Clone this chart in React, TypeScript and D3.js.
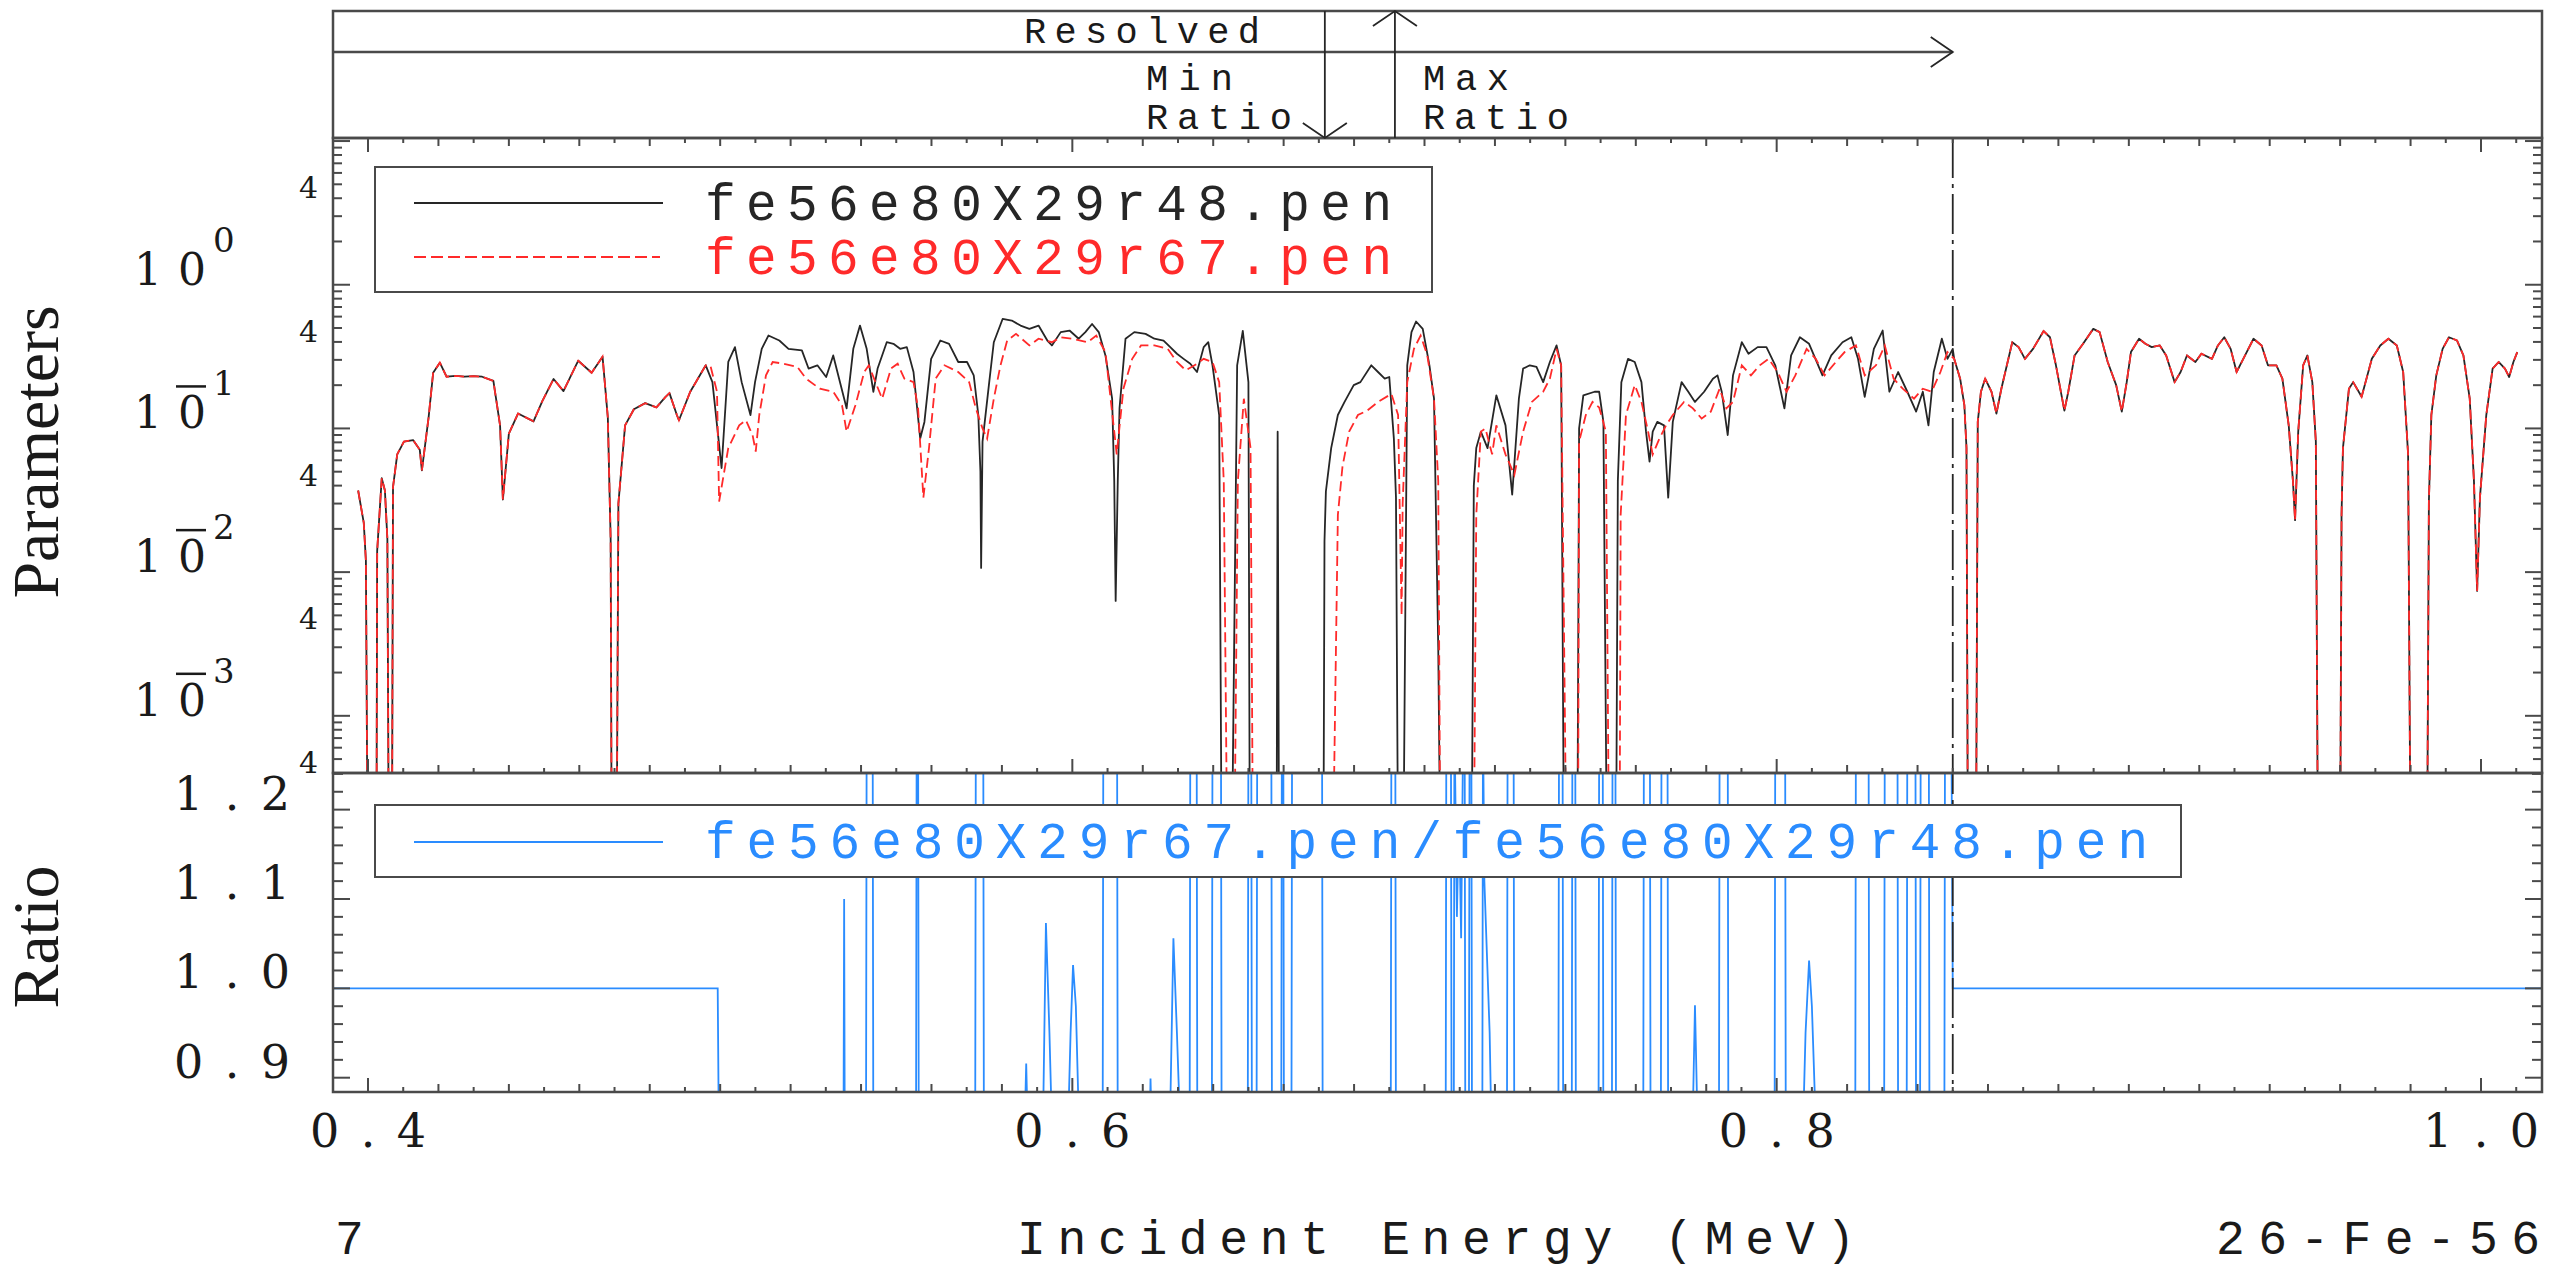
import React, { useEffect, useRef } from 'react';
import * as d3 from 'd3';

// Overall canvas and panel geometry
const W = 2552;
const H = 1268;
const LEFT = 333;
const RIGHT = 2542;
const TOP_PANEL = { top: 11, bottom: 138 };
const MAIN = { top: 138, bottom: 773 };
const RATIO_PANEL = { top: 773, bottom: 1092 };

// Axis domains
const X_DOMAIN: [number, number] = [0.39006, 1.01732];
const Y_DOMAIN: [number, number] = [4e-4, 10.5];
const RATIO_DOMAIN: [number, number] = [0.884, 1.241];

// Region markers (MeV)
const RESOLVED_END = 0.85;
const MIN_RATIO_E = 0.6717;
const MAX_RATIO_E = 0.6916;

// Tick labels
const X_LABELS = [0.4, 0.6, 0.8, 1.0];
const DECADES = [0, -1, -2, -3];
const FOUR_TICKS = [4, 0.4, 0.04, 0.004, 0.0004];
const RATIO_LABELS = [0.9, 1.0, 1.1, 1.2];

// Cross sections below the resonance region (both evaluations agree)
const LOW_SHARED: [number, number][] = [
  [0.3972, 0.037], [0.3988, 0.022], [0.3994, 0.012], [0.3999, 0.0001], [0.4024, 0.0001],
  [0.4026, 0.014], [0.4039, 0.045], [0.4048, 0.037], [0.4055, 0.017], [0.4059, 0.0001],
  [0.4068, 0.0001], [0.4071, 0.039], [0.4083, 0.066], [0.4102, 0.081], [0.4128, 0.083],
  [0.4147, 0.071], [0.4153, 0.051], [0.4172, 0.119], [0.4185, 0.244], [0.4204, 0.287],
  [0.4223, 0.229], [0.4250, 0.232], [0.4274, 0.229], [0.4300, 0.231], [0.4324, 0.229],
  [0.4356, 0.214], [0.4375, 0.105], [0.4383, 0.032], [0.4400, 0.092], [0.4426, 0.127],
  [0.4470, 0.112], [0.4495, 0.155], [0.4527, 0.221], [0.4555, 0.182], [0.4597, 0.296],
  [0.4635, 0.244], [0.4666, 0.316], [0.4681, 0.119], [0.4689, 0.017], [0.4692, 0.0001],
  [0.4706, 0.0001], [0.4711, 0.030], [0.4730, 0.105], [0.4755, 0.136], [0.4787, 0.150],
  [0.4819, 0.140], [0.4845, 0.166], [0.4856, 0.176], [0.4877, 0.124], [0.4883, 0.114],
  [0.4915, 0.180], [0.4959, 0.275],
];

// fe56e80X29r48 between 0.496 and 0.85 MeV
const MID_R48: [number, number][] = [
  [0.4978, 0.210], [0.5004, 0.053], [0.5023, 0.290], [0.5042, 0.368], [0.5061, 0.210],
  [0.5086, 0.124], [0.5099, 0.210], [0.5118, 0.358], [0.5137, 0.443], [0.5168, 0.409],
  [0.5194, 0.358], [0.5232, 0.349], [0.5251, 0.261], [0.5276, 0.275], [0.5301, 0.228],
  [0.5321, 0.322], [0.5359, 0.138], [0.5378, 0.358], [0.5397, 0.520], [0.5416, 0.358],
  [0.5435, 0.180], [0.5447, 0.261], [0.5473, 0.398], [0.5492, 0.388], [0.5511, 0.358],
  [0.5530, 0.368], [0.5549, 0.247], [0.5568, 0.085], [0.5580, 0.111], [0.5599, 0.305],
  [0.5625, 0.409], [0.5650, 0.388], [0.5676, 0.290], [0.5701, 0.290], [0.5720, 0.234],
  [0.5733, 0.124], [0.5739, 0.050], [0.5741, 0.0107], [0.5745, 0.081], [0.5764, 0.210],
  [0.5777, 0.398], [0.5802, 0.578], [0.5828, 0.563], [0.5853, 0.520], [0.5878, 0.493],
  [0.5904, 0.520], [0.5929, 0.409], [0.5942, 0.378], [0.5967, 0.468], [0.5992, 0.480],
  [0.6018, 0.421], [0.6037, 0.468], [0.6056, 0.533], [0.6075, 0.468], [0.6094, 0.322],
  [0.6113, 0.161], [0.6119, 0.043], [0.6123, 0.0063], [0.6129, 0.043], [0.6134, 0.138],
  [0.6151, 0.421], [0.6176, 0.468], [0.6208, 0.455], [0.6233, 0.421], [0.6259, 0.409],
  [0.6278, 0.368], [0.6297, 0.331], [0.6316, 0.305], [0.6335, 0.282], [0.6354, 0.247],
  [0.6373, 0.368], [0.6386, 0.398], [0.6398, 0.275], [0.6417, 0.124], [0.6424, 0.0001],
  [0.6453, 0.0001], [0.6468, 0.275], [0.6484, 0.478], [0.6500, 0.210], [0.6504, 0.0001],
  [0.6580, 0.0001], [0.6583, 0.095], [0.6587, 0.0001], [0.6713, 0.0001], [0.6716, 0.0164],
  [0.6720, 0.0365], [0.6735, 0.073], [0.6754, 0.124], [0.6773, 0.153], [0.6799, 0.200],
  [0.6818, 0.210], [0.6849, 0.275], [0.6868, 0.247], [0.6887, 0.222], [0.6900, 0.228],
  [0.6913, 0.085], [0.6919, 0.033], [0.6925, 0.0001], [0.6940, 0.0001], [0.6951, 0.275],
  [0.6963, 0.468], [0.6976, 0.555], [0.6995, 0.493], [0.7014, 0.275], [0.7027, 0.161],
  [0.7039, 0.003], [0.7045, 0.0001], [0.7134, 0.0001], [0.7140, 0.040], [0.7147, 0.073],
  [0.7160, 0.095], [0.7179, 0.073], [0.7204, 0.170], [0.7230, 0.105], [0.7249, 0.0346],
  [0.7268, 0.161], [0.7280, 0.261], [0.7299, 0.275], [0.7318, 0.268], [0.7337, 0.210],
  [0.7356, 0.290], [0.7375, 0.378], [0.7388, 0.275], [0.7396, 0.0001], [0.7434, 0.0001],
  [0.7439, 0.100], [0.7451, 0.170], [0.7483, 0.180], [0.7496, 0.180], [0.7508, 0.111],
  [0.7518, 0.0001], [0.7544, 0.0001], [0.7549, 0.043], [0.7559, 0.210], [0.7578, 0.305],
  [0.7597, 0.290], [0.7616, 0.210], [0.7629, 0.095], [0.7639, 0.0587], [0.7648, 0.095],
  [0.7661, 0.111], [0.7680, 0.105], [0.7692, 0.033], [0.7705, 0.111], [0.7730, 0.210],
  [0.7749, 0.180], [0.7768, 0.153], [0.7794, 0.180], [0.7819, 0.222], [0.7832, 0.234],
  [0.7844, 0.180], [0.7861, 0.090], [0.7876, 0.234], [0.7901, 0.398], [0.7920, 0.331],
  [0.7946, 0.368], [0.7971, 0.368], [0.7996, 0.275], [0.8022, 0.138], [0.8041, 0.322],
  [0.8066, 0.431], [0.8092, 0.388], [0.8130, 0.234], [0.8155, 0.322], [0.8187, 0.398],
  [0.8212, 0.431], [0.8231, 0.305], [0.8250, 0.166], [0.8276, 0.358], [0.8301, 0.480],
  [0.8320, 0.180], [0.8345, 0.247], [0.8371, 0.180], [0.8396, 0.131], [0.8415, 0.180],
  [0.8431, 0.105], [0.8446, 0.247], [0.8469, 0.421], [0.8485, 0.305], [0.8500, 0.358],
];

// fe56e80X29r67 between 0.496 and 0.85 MeV
const MID_R67: [number, number][] = [
  [0.4972, 0.275], [0.4991, 0.180], [0.4997, 0.031], [0.5023, 0.073], [0.5054, 0.105],
  [0.5073, 0.114], [0.5092, 0.090], [0.5101, 0.069], [0.5111, 0.124], [0.5130, 0.234],
  [0.5149, 0.290], [0.5181, 0.282], [0.5219, 0.268], [0.5244, 0.222], [0.5283, 0.189],
  [0.5321, 0.180], [0.5346, 0.145], [0.5359, 0.095], [0.5384, 0.145], [0.5409, 0.247],
  [0.5422, 0.275], [0.5441, 0.210], [0.5460, 0.161], [0.5485, 0.261], [0.5504, 0.282],
  [0.5523, 0.222], [0.5549, 0.210], [0.5562, 0.138], [0.5577, 0.033], [0.5593, 0.073],
  [0.5612, 0.222], [0.5637, 0.275], [0.5676, 0.247], [0.5707, 0.210], [0.5726, 0.138],
  [0.5745, 0.100], [0.5758, 0.085], [0.5777, 0.161], [0.5796, 0.275], [0.5815, 0.409],
  [0.5840, 0.455], [0.5878, 0.378], [0.5904, 0.421], [0.5942, 0.398], [0.5967, 0.431],
  [0.5999, 0.421], [0.6043, 0.398], [0.6068, 0.443], [0.6094, 0.340], [0.6119, 0.095],
  [0.6126, 0.066], [0.6145, 0.189], [0.6170, 0.305], [0.6195, 0.378], [0.6233, 0.378],
  [0.6271, 0.358], [0.6297, 0.290], [0.6322, 0.254], [0.6347, 0.275], [0.6373, 0.305],
  [0.6398, 0.290], [0.6417, 0.210], [0.6430, 0.043], [0.6440, 0.0001], [0.6460, 0.0001],
  [0.6470, 0.043], [0.6487, 0.161], [0.6506, 0.073], [0.6513, 0.0001], [0.6740, 0.0001],
  [0.6754, 0.025], [0.6767, 0.054], [0.6786, 0.095], [0.6811, 0.124], [0.6837, 0.133],
  [0.6868, 0.153], [0.6906, 0.174], [0.6925, 0.124], [0.6935, 0.005], [0.6938, 0.030],
  [0.6951, 0.210], [0.6970, 0.358], [0.6989, 0.443], [0.7008, 0.322], [0.7027, 0.161],
  [0.7039, 0.043], [0.7045, 0.0001], [0.7140, 0.0001], [0.7147, 0.025], [0.7160, 0.095],
  [0.7173, 0.100], [0.7192, 0.066], [0.7204, 0.105], [0.7230, 0.066], [0.7255, 0.0475],
  [0.7280, 0.095], [0.7305, 0.153], [0.7337, 0.180], [0.7356, 0.222], [0.7375, 0.358],
  [0.7388, 0.275], [0.7403, 0.0001], [0.7436, 0.0001], [0.7439, 0.081], [0.7458, 0.124],
  [0.7477, 0.153], [0.7496, 0.140], [0.7515, 0.095], [0.7524, 0.0001], [0.7554, 0.0001],
  [0.7557, 0.025], [0.7572, 0.124], [0.7597, 0.200], [0.7616, 0.153], [0.7635, 0.095],
  [0.7648, 0.066], [0.7667, 0.085], [0.7686, 0.105], [0.7705, 0.124], [0.7737, 0.153],
  [0.7762, 0.138], [0.7787, 0.117], [0.7813, 0.131], [0.7838, 0.189], [0.7857, 0.138],
  [0.7876, 0.153], [0.7901, 0.275], [0.7927, 0.234], [0.7952, 0.275], [0.7977, 0.305],
  [0.8003, 0.247], [0.8028, 0.180], [0.8053, 0.234], [0.8085, 0.358], [0.8111, 0.305],
  [0.8136, 0.234], [0.8168, 0.290], [0.8193, 0.340], [0.8225, 0.378], [0.8250, 0.234],
  [0.8282, 0.275], [0.8307, 0.378], [0.8332, 0.222], [0.8358, 0.189], [0.8390, 0.161],
  [0.8415, 0.189], [0.8440, 0.180], [0.8465, 0.247], [0.8485, 0.340],
];

// Above 0.85 MeV both evaluations are identical
const HIGH_SHARED: [number, number][] = [
  [0.8504, 0.305], [0.8521, 0.222], [0.8533, 0.145], [0.8539, 0.073], [0.8543, 0.0001],
  [0.8566, 0.0001], [0.8571, 0.111], [0.8580, 0.180], [0.8592, 0.222], [0.8610, 0.180],
  [0.8624, 0.127], [0.8638, 0.189], [0.8669, 0.398], [0.8687, 0.368], [0.8705, 0.305],
  [0.8728, 0.358], [0.8758, 0.476], [0.8776, 0.431], [0.8793, 0.275], [0.8817, 0.133],
  [0.8828, 0.180], [0.8846, 0.322], [0.8870, 0.388], [0.8899, 0.493], [0.8917, 0.468],
  [0.8940, 0.290], [0.8964, 0.200], [0.8980, 0.131], [0.8994, 0.210], [0.9006, 0.340],
  [0.9029, 0.421], [0.9047, 0.388], [0.9065, 0.368], [0.9088, 0.378], [0.9106, 0.322],
  [0.9130, 0.210], [0.9147, 0.247], [0.9165, 0.322], [0.9189, 0.290], [0.9206, 0.331],
  [0.9236, 0.305], [0.9253, 0.378], [0.9271, 0.431], [0.9289, 0.358], [0.9306, 0.247],
  [0.9330, 0.322], [0.9354, 0.421], [0.9377, 0.378], [0.9395, 0.275], [0.9419, 0.275],
  [0.9436, 0.222], [0.9454, 0.105], [0.9466, 0.043], [0.9472, 0.023], [0.9481, 0.095],
  [0.9495, 0.275], [0.9507, 0.322], [0.9521, 0.210], [0.9531, 0.081], [0.9537, 0.0001],
  [0.9600, 0.0001], [0.9604, 0.025], [0.9608, 0.073], [0.9625, 0.189], [0.9637, 0.210],
  [0.9661, 0.166], [0.9690, 0.305], [0.9714, 0.378], [0.9737, 0.421], [0.9761, 0.378],
  [0.9779, 0.247], [0.9793, 0.066], [0.9800, 0.0001], [0.9847, 0.0001], [0.9852, 0.031],
  [0.9859, 0.124], [0.9873, 0.234], [0.9891, 0.358], [0.9909, 0.431], [0.9932, 0.409],
  [0.9950, 0.322], [0.9968, 0.161], [0.9980, 0.043], [0.9989, 0.0074], [0.9997, 0.033],
  [1.0015, 0.124], [1.0033, 0.261], [1.0050, 0.290], [1.0068, 0.261], [1.0080, 0.228],
  [1.0092, 0.290], [1.0103, 0.340],
];

// Ratio r67/r48 (0.8 = off scale below, 1.3 = off scale above)
const RATIO: [number, number][] = [
  [0.3901, 1.0], [0.4993, 1.0], [0.4997, 0.8],
  [0.5350, 0.8], [0.5352, 1.10], [0.5354, 0.8],
  [0.5414, 0.8], [0.5416, 1.3], [0.5433, 1.3], [0.5435, 0.8],
  [0.5556, 0.8], [0.5558, 1.3], [0.5562, 1.3], [0.5564, 0.8],
  [0.5724, 0.8], [0.5726, 1.3], [0.5747, 1.3], [0.5749, 0.8],
  [0.5862, 0.8], [0.5869, 0.916], [0.5876, 0.8],
  [0.5915, 0.8], [0.5925, 1.073], [0.5935, 0.95], [0.5945, 0.8],
  [0.5985, 0.8], [0.5995, 0.95], [0.6002, 1.026], [0.6010, 0.98], [0.6022, 0.8],
  [0.6086, 0.8], [0.6088, 1.3], [0.6127, 1.3], [0.6129, 0.8],
  [0.6218, 0.8], [0.6222, 0.899], [0.6228, 0.8],
  [0.6275, 0.8], [0.6287, 1.056], [0.6297, 0.95], [0.6310, 0.8],
  [0.6333, 0.8], [0.6335, 1.3], [0.6353, 1.3], [0.6355, 0.8],
  [0.6396, 0.8], [0.6398, 1.3], [0.6422, 1.3], [0.6424, 0.8],
  [0.6498, 0.8], [0.6500, 1.3], [0.6508, 1.3], [0.6510, 0.8],
  [0.6523, 0.8], [0.6525, 1.3], [0.6565, 1.3], [0.6567, 0.8],
  [0.6593, 0.8], [0.6595, 1.3], [0.6599, 1.3], [0.6601, 0.8],
  [0.6622, 0.8], [0.6624, 1.3], [0.6709, 1.3], [0.6711, 0.8],
  [0.6904, 0.8], [0.6906, 1.3], [0.6917, 1.3], [0.6919, 0.8],
  [0.7060, 0.8], [0.7062, 1.3], [0.7075, 1.3], [0.7077, 0.8],
  [0.7083, 0.8], [0.7085, 1.3], [0.7092, 1.08], [0.7098, 1.20], [0.7104, 1.056],
  [0.7110, 1.3], [0.7114, 1.3], [0.7116, 0.8],
  [0.7126, 0.8], [0.7128, 1.3], [0.7133, 1.3], [0.7135, 0.8],
  [0.7164, 0.8], [0.7166, 1.3], [0.7170, 1.12], [0.7185, 0.95], [0.7192, 0.8],
  [0.7234, 0.8], [0.7236, 1.3], [0.7253, 1.3], [0.7255, 0.8],
  [0.7380, 0.8], [0.7382, 1.3], [0.7392, 1.3], [0.7394, 0.8],
  [0.7418, 0.8], [0.7420, 1.3], [0.7428, 1.3], [0.7430, 0.8],
  [0.7494, 0.8], [0.7496, 1.3], [0.7506, 1.3], [0.7508, 0.8],
  [0.7532, 0.8], [0.7534, 1.3], [0.7542, 1.3], [0.7544, 0.8],
  [0.7621, 0.8], [0.7623, 1.3], [0.7640, 1.3], [0.7642, 0.8],
  [0.7671, 0.8], [0.7673, 1.3], [0.7690, 1.3], [0.7692, 0.8],
  [0.7759, 0.8], [0.7768, 0.981], [0.7778, 0.8],
  [0.7836, 0.8], [0.7838, 1.3], [0.7861, 1.3], [0.7863, 0.8],
  [0.7994, 0.8], [0.7996, 1.3], [0.8024, 1.3], [0.8026, 0.8],
  [0.8072, 0.8], [0.8082, 0.95], [0.8092, 1.031], [0.8100, 0.98], [0.8115, 0.8],
  [0.8223, 0.8], [0.8225, 1.3], [0.8261, 1.3], [0.8263, 0.8],
  [0.8305, 0.8], [0.8307, 1.3], [0.8343, 1.3], [0.8345, 0.8],
  [0.8369, 0.8], [0.8371, 1.3], [0.8394, 1.3], [0.8396, 0.8],
  [0.8407, 0.8], [0.8409, 1.3], [0.8432, 1.3], [0.8434, 0.8],
  [0.8476, 0.8], [0.8478, 1.3], [0.8496, 1.3], [0.8500, 1.0],
  [1.0173, 1.0],
];

const R48 = [...LOW_SHARED, ...MID_R48, ...HIGH_SHARED];
const R67 = [...LOW_SHARED, ...MID_R67, ...HIGH_SHARED];

const BLACK = '#262626';
const RED = '#ff2a2a';
const BLUE = '#2a8cff';
const FRAME = '#4a4a4a';
const MONO = '"Liberation Mono", "DejaVu Sans Mono", monospace';
const SERIF = '"DejaVu Serif", serif';
const TITLE_SERIF = '"Liberation Serif", serif';

export default function App() {
  const ref = useRef<SVGSVGElement>(null);

  useEffect(() => {
    document.body.style.margin = '0';
    const svg = d3.select(ref.current);
    svg.selectAll('*').remove();

    const x = d3.scaleLinear().domain(X_DOMAIN).range([LEFT, RIGHT]);
    const y = d3.scaleLog().domain(Y_DOMAIN).range([MAIN.bottom, MAIN.top]);
    const yr = d3.scaleLinear().domain(RATIO_DOMAIN).range([RATIO_PANEL.bottom, RATIO_PANEL.top]);

    svg.append('rect').attr('width', W).attr('height', H).attr('fill', '#fff');

    const defs = svg.append('defs');
    defs.append('clipPath').attr('id', 'clip-main')
      .append('rect').attr('x', LEFT).attr('y', MAIN.top)
      .attr('width', RIGHT - LEFT).attr('height', MAIN.bottom - MAIN.top);
    defs.append('clipPath').attr('id', 'clip-ratio')
      .append('rect').attr('x', LEFT).attr('y', RATIO_PANEL.top)
      .attr('width', RIGHT - LEFT).attr('height', RATIO_PANEL.bottom - RATIO_PANEL.top);

    // Cross-section curves
    const line = d3.line<[number, number]>().x(d => x(d[0])).y(d => y(d[1]));
    const gMain = svg.append('g').attr('clip-path', 'url(#clip-main)');
    gMain.append('path').attr('d', line(R48)).attr('fill', 'none')
      .attr('stroke', BLACK).attr('stroke-width', 1.8).attr('stroke-linejoin', 'round');
    gMain.append('path').attr('d', line(R67)).attr('fill', 'none')
      .attr('stroke', RED).attr('stroke-width', 1.8).attr('stroke-dasharray', '10,5');

    // Ratio curve
    const rline = d3.line<[number, number]>().x(d => x(d[0])).y(d => yr(d[1]));
    svg.append('g').attr('clip-path', 'url(#clip-ratio)')
      .append('path').attr('d', rline(RATIO)).attr('fill', 'none')
      .attr('stroke', BLUE).attr('stroke-width', 1.8);

    // Resolved-region boundary
    svg.append('line')
      .attr('x1', x(RESOLVED_END)).attr('x2', x(RESOLVED_END))
      .attr('y1', MAIN.top).attr('y2', RATIO_PANEL.bottom)
      .attr('stroke', BLACK).attr('stroke-width', 1.8).attr('stroke-dasharray', '40,6,4,6');

    // Legend boxes
    const legend = svg.append('g');
    legend.append('rect').attr('x', 375).attr('y', 167).attr('width', 1057).attr('height', 125)
      .attr('fill', '#fff').attr('stroke', FRAME).attr('stroke-width', 2);
    legend.append('line').attr('x1', 414).attr('x2', 663).attr('y1', 203).attr('y2', 203)
      .attr('stroke', BLACK).attr('stroke-width', 2);
    legend.append('line').attr('x1', 414).attr('x2', 660).attr('y1', 257).attr('y2', 257)
      .attr('stroke', RED).attr('stroke-width', 2).attr('stroke-dasharray', '12,5');
    legend.append('text').attr('x', 705).attr('y', 220).text('fe56e80X29r48.pen')
      .attr('fill', BLACK).attr('font-family', MONO).attr('font-size', 51)
      .attr('textLength', 687).attr('lengthAdjust', 'spacing');
    legend.append('text').attr('x', 705).attr('y', 274).text('fe56e80X29r67.pen')
      .attr('fill', RED).attr('font-family', MONO).attr('font-size', 51)
      .attr('textLength', 687).attr('lengthAdjust', 'spacing');

    legend.append('rect').attr('x', 375).attr('y', 805).attr('width', 1806).attr('height', 72)
      .attr('fill', '#fff').attr('stroke', FRAME).attr('stroke-width', 2);
    legend.append('line').attr('x1', 414).attr('x2', 663).attr('y1', 842).attr('y2', 842)
      .attr('stroke', BLUE).attr('stroke-width', 2);
    legend.append('text').attr('x', 705).attr('y', 858)
      .text('fe56e80X29r67.pen/fe56e80X29r48.pen')
      .attr('fill', BLUE).attr('font-family', MONO).attr('font-size', 51)
      .attr('textLength', 1443).attr('lengthAdjust', 'spacing');

    // Frames
    const frames = svg.append('g').attr('fill', 'none').attr('stroke', FRAME).attr('stroke-width', 2.5);
    frames.append('rect').attr('x', LEFT).attr('y', TOP_PANEL.top)
      .attr('width', RIGHT - LEFT).attr('height', TOP_PANEL.bottom - TOP_PANEL.top);
    frames.append('rect').attr('x', LEFT).attr('y', MAIN.top)
      .attr('width', RIGHT - LEFT).attr('height', MAIN.bottom - MAIN.top);
    frames.append('rect').attr('x', LEFT).attr('y', RATIO_PANEL.top)
      .attr('width', RIGHT - LEFT).attr('height', RATIO_PANEL.bottom - RATIO_PANEL.top);

    // X ticks every 0.01 MeV
    const ticks = svg.append('g').attr('stroke', FRAME).attr('stroke-width', 2);
    const xTicks = d3.range(40, 102).map(i => i / 100);
    xTicks.forEach((t, i) => {
      const n = i + 40;
      const len = n % 20 === 0 ? 14 : n % 2 === 0 ? 8 : 5;
      const px = x(t);
      ticks.append('line').attr('x1', px).attr('x2', px)
        .attr('y1', MAIN.bottom).attr('y2', MAIN.bottom - len);
      ticks.append('line').attr('x1', px).attr('x2', px)
        .attr('y1', MAIN.top).attr('y2', MAIN.top + len);
      ticks.append('line').attr('x1', px).attr('x2', px)
        .attr('y1', RATIO_PANEL.bottom).attr('y2', RATIO_PANEL.bottom - len);
    });

    // Log Y ticks
    for (let e = -4; e <= 1; e++) {
      for (let k = 1; k <= 9; k++) {
        const v = k * Math.pow(10, e);
        if (v < Y_DOMAIN[0] * 0.999 || v > Y_DOMAIN[1]) continue;
        const py = y(v);
        const len = k === 1 ? 17 : 9;
        ticks.append('line').attr('x1', LEFT).attr('x2', LEFT + len).attr('y1', py).attr('y2', py);
        ticks.append('line').attr('x1', RIGHT).attr('x2', RIGHT - len).attr('y1', py).attr('y2', py);
      }
    }

    // Ratio Y ticks every 0.02
    d3.range(45, 63).forEach(i => {
      const v = i / 50;
      const py = yr(v);
      const len = i % 5 === 0 ? 17 : 10;
      ticks.append('line').attr('x1', LEFT).attr('x2', LEFT + len).attr('y1', py).attr('y2', py);
      ticks.append('line').attr('x1', RIGHT).attr('x2', RIGHT - len).attr('y1', py).attr('y2', py);
    });

    const labels = svg.append('g').attr('fill', '#1a1a1a');

    // X tick labels
    X_LABELS.forEach(v => {
      labels.append('text').attr('x', x(v) - 58).attr('y', 1147).text(v.toFixed(1))
        .attr('font-family', SERIF).attr('font-size', 46)
        .attr('textLength', 116).attr('lengthAdjust', 'spacing');
    });

    // Decade labels 10^n
    DECADES.forEach(n => {
      const py = y(Math.pow(10, n));
      labels.append('text').attr('x', 134).attr('y', py).text('10')
        .attr('font-family', SERIF).attr('font-size', 44)
        .attr('textLength', 72).attr('lengthAdjust', 'spacing');
      labels.append('text').attr('x', 213).attr('y', py - 33).text(String(Math.abs(n)))
        .attr('font-family', SERIF).attr('font-size', 34);
      if (n < 0) {
        labels.append('line').attr('x1', 176).attr('x2', 206)
          .attr('y1', py - 42).attr('y2', py - 42)
          .attr('stroke', '#1a1a1a').attr('stroke-width', 2.5);
      }
    });
    FOUR_TICKS.forEach(v => {
      labels.append('text').attr('x', 318).attr('y', y(v)).text('4')
        .attr('text-anchor', 'end').attr('font-family', SERIF).attr('font-size', 30);
    });

    // Ratio labels
    RATIO_LABELS.forEach(v => {
      labels.append('text').attr('x', 174).attr('y', yr(v)).text(v.toFixed(1))
        .attr('font-family', SERIF).attr('font-size', 46)
        .attr('textLength', 116).attr('lengthAdjust', 'spacing');
    });

    // Axis titles
    labels.append('text').attr('transform', 'translate(58,452) rotate(-90)')
      .attr('text-anchor', 'middle').text('Parameters')
      .attr('font-family', TITLE_SERIF).attr('font-size', 66);
    labels.append('text').attr('transform', 'translate(58,937) rotate(-90)')
      .attr('text-anchor', 'middle').text('Ratio')
      .attr('font-family', TITLE_SERIF).attr('font-size', 66);

    labels.append('text').attr('x', 335).attr('y', 1254).text('7')
      .attr('font-family', MONO).attr('font-size', 48);
    labels.append('text').attr('x', 1017).attr('y', 1254).text('Incident Energy (MeV)')
      .attr('font-family', MONO).attr('font-size', 48)
      .attr('textLength', 838).attr('lengthAdjust', 'spacing');
    labels.append('text').attr('x', 2216).attr('y', 1254).text('26-Fe-56')
      .attr('font-family', MONO).attr('font-size', 48)
      .attr('textLength', 324).attr('lengthAdjust', 'spacing');

    // Top panel: resolved range and ratio extremes
    const top = svg.append('g').attr('stroke', BLACK).attr('stroke-width', 1.8).attr('fill', 'none');
    const tipX = x(RESOLVED_END);
    top.append('line').attr('x1', LEFT).attr('x2', tipX).attr('y1', 52).attr('y2', 52)
      .attr('stroke', FRAME).attr('stroke-width', 2.5);
    top.append('path').attr('d', `M${tipX - 22},37L${tipX},52L${tipX - 22},67`);
    const xm = x(MIN_RATIO_E);
    top.append('line').attr('x1', xm).attr('x2', xm).attr('y1', TOP_PANEL.top).attr('y2', TOP_PANEL.bottom);
    top.append('path').attr('d', `M${xm - 22},${TOP_PANEL.bottom - 15}L${xm},${TOP_PANEL.bottom}L${xm + 22},${TOP_PANEL.bottom - 15}`);
    const xM = x(MAX_RATIO_E);
    top.append('line').attr('x1', xM).attr('x2', xM).attr('y1', TOP_PANEL.top).attr('y2', TOP_PANEL.bottom);
    top.append('path').attr('d', `M${xM - 22},${TOP_PANEL.top + 15}L${xM},${TOP_PANEL.top}L${xM + 22},${TOP_PANEL.top + 15}`);

    const topText = (s: string, tx: number, ty: number, len: number) =>
      labels.append('text').attr('x', tx).attr('y', ty).text(s)
        .attr('font-family', MONO).attr('font-size', 37)
        .attr('textLength', len).attr('lengthAdjust', 'spacing');
    topText('Resolved', 1024, 43, 236);
    topText('Min', 1146, 90, 87);
    topText('Ratio', 1146, 129, 146);
    topText('Max', 1423, 90, 86);
    topText('Ratio', 1423, 129, 146);
  }, []);

  return (
    <svg
      ref={ref}
      width={W}
      height={H}
      style={{ position: 'absolute', left: 0, top: 0, display: 'block' }}
    />
  );
}
